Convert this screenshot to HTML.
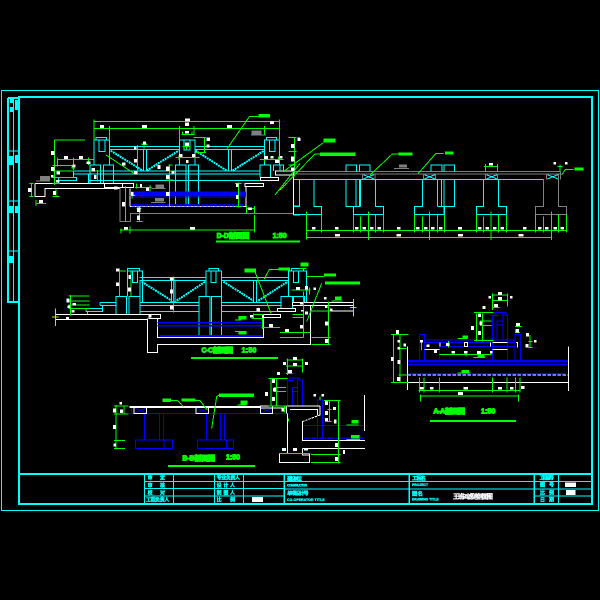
<!DOCTYPE html>
<html><head><meta charset="utf-8"><style>
html,body{margin:0;padding:0;background:#000;width:600px;height:600px;overflow:hidden}
svg{display:block}
path{fill:none;stroke-width:3}
.c path,path.c{stroke:#0ff}.g path,path.g{stroke:#0f0}.w path,path.w{stroke:#fff}
.b path,path.b{stroke:#00f}.y path,path.y{stroke:#808080}
.wr rect{fill:#fff}.gr rect{fill:#0f0}.br{fill:#00f}
.t{font-family:"Liberation Sans","Noto Sans CJK SC",sans-serif;font-weight:bold;fill:#0f0;stroke:#0f0;font-size:21px;stroke-width:3}
.k{font-family:"Liberation Sans","Noto Sans CJK SC",sans-serif;font-weight:bold;fill:#0ff;stroke:#0ff;stroke-width:1;font-size:15px}
</style></head><body>
<svg width="600" height="600" viewBox="0 0 600 600" xmlns="http://www.w3.org/2000/svg" shape-rendering="crispEdges">
<rect width="600" height="600" fill="#000"/>
<!-- frames -->
<rect x="1.5" y="90.5" width="597" height="420" fill="none" stroke="#0ff"/>
<rect x="19" y="97" width="573" height="407" fill="none" stroke="#0ff" stroke-width="2"/>
<path style="stroke-width:2" stroke="#0ff" fill="none" d="M8 98V302H19M8 98H19"/>
<path style="stroke-width:1" stroke="#0ff" fill="none" d="M13.5 98V302M9 151H19M9 201H19M9 251H19"/>
<g fill="#0ff"><rect x="10" y="99" width="3" height="4"/><rect x="15" y="100" width="3" height="10"/><rect x="10" y="107" width="3" height="5"/><rect x="9" y="156" width="4" height="9"/><rect x="15" y="155" width="3" height="8"/><rect x="9" y="206" width="4" height="7"/><rect x="15" y="206" width="3" height="7"/><rect x="9" y="256" width="4" height="7"/></g>

<!-- title block -->
<g transform="translate(130,470) scale(.33333)">
<path class="c" style="stroke-width:6" d="M-333 12H1385"/>
<path class="c" d="M43 35H1385M463 57H1385M43 56H463M43 78H463M838 78H838M1213 35H1385M1213 78H1385M463 35H838"/>
<path class="c" d="M43 12V102M130 12V102M253 12V102M340 12V102M1285 12V102"/>
<path class="c" style="stroke-width:4" d="M463 12V102M838 12V102M1213 12V102"/>
<text class="k" x="53" y="29" textLength="52">审  定</text><text class="k" x="53" y="51" textLength="52">审  核</text>
<text class="k" x="53" y="74" textLength="52">校  对</text><text class="k" x="48" y="95" textLength="70">工程负责人</text>
<text class="k" x="260" y="29" textLength="70">专业负责人</text><text class="k" x="260" y="51" textLength="55">设 计 人</text>
<text class="k" x="260" y="74" textLength="55">制 图 人</text><text class="k" x="260" y="95" textLength="55">比 例</text>
<rect x="366" y="81" width="33" height="15" fill="#fff"/>
<text class="k" x="471" y="31" textLength="45" style="font-size:16px">建设单位</text><text class="k" x="471" y="49" textLength="60" style="font-size:10px">CONSTRUCTOR</text>
<text class="k" x="471" y="75" textLength="65" style="font-size:16px">单项设计号</text><text class="k" x="471" y="93" textLength="113" style="font-size:10px">CO-OPERATOR  TITLE</text>
<text class="k" x="846" y="30" textLength="42" style="font-size:16px">工程名</text><text class="k" x="846" y="48" textLength="48" style="font-size:10px">PROJECT</text>
<text class="k" x="846" y="77" textLength="33" style="font-size:16px">图 名</text><text class="k" x="846" y="92" textLength="80" style="font-size:10px">DRAWING  TITLE</text>
<text x="969" y="86" textLength="120" style="font-family:'Liberation Sans','Noto Sans CJK SC',sans-serif;font-size:19px;font-weight:bold;fill:#fff;stroke:#fff;stroke-width:1">王班2#滤池剖面图</text>
<text class="k" x="1228" y="28" textLength="44">工程编号</text><text class="k" x="1230" y="50" textLength="42">图 号</text>
<text class="k" x="1230" y="74" textLength="42">比 例</text><text class="k" x="1230" y="95" textLength="42">日 期</text>
<g class="wr"><rect x="1305" y="38" width="33" height="13"/><rect x="1308" y="60" width="29" height="15"/></g>
</g>

<!-- D-D -->
<g transform="translate(20,100) scale(.33333)">
<g class="c"><path d="M222 195V120H268V195M228 120V112H260V120M237 120V155H255V120M733 195V120H778V195M739 120V112H770V120M748 120V155H765V120M478 195V120H525V195M492 120V150H510V120M268 140H478M268 149H478M525 140H733M525 149H733M160 213H722M160 222H722M205 241H722M370 149V212M380 149V212M625 149V212M635 149V212M466 320V195H498V320M505 320V195H536V320M210 250V195H242V250M250 250V195H281V250M720 232V195H752V232M760 213V195H791V213M115 250V232H170V242H115M160 232V213M205 222V250"/>
<path style="stroke-width:6" stroke-dasharray="6 2" d="M272 152L368 212M380 212L476 152M527 152L620 212M638 212L732 152"/></g>
<g class="w"><path d="M45 250V290H75V265H300M45 250H253M253 250H340V263H253ZM307 250V263M675 250H730V260H675ZM722 232H776V242H722ZM766 213H820V225H766ZM678 260V320M330 265V320M330 320H678"/></g>
<g class="y"><path d="M300 263V365H332V340H820"/></g>
<path class="c" d="M820 345V237M820 318H840M820 345H840"/>
<rect class="br" x="338" y="274" width="340" height="14"/><path class="b" d="M338 291H678"/><path class="b" style="stroke-width:7" stroke-dasharray="10 3" d="M335 316H670"/>
<g class="g"><path d="M222 65H780M222 85H780M222 58V125M268 78V120M478 78V120M522 78V105M733 78V105M778 58V125M620 148L688 50H750M103 120H195M103 120V255M113 172V200M113 178H220M97 197H160M97 213H160M97 232H160M97 250H120M28 250H40M28 290H40M35 250V290M48 310H78M48 300V318M108 265V290M98 290H118M160 172V210M205 172V195M232 210V245M210 213H245M258 165L345 222M352 135V225M365 133H382M372 125V145M485 103H522M488 95V105M516 95V105M488 140H512M500 130V150M445 195H458M448 195V318M440 213H460M438 240H460M466 173H538M477 165V180M525 165V180M520 113H558M553 113V158M525 158H558M720 178H790M733 170V186M775 170V186M806 113H830M806 155H830M806 195H830M824 113V230M765 285L840 190M316 258V365M328 287H345M336 275V295M350 250V265M345 263H395M390 255V275M358 318V365M350 325H365M350 365H368M655 247V322M645 250H665M645 320H665M678 325H705M680 318V340M703 318V340M330 390H703M703 345V398M303 385V400M330 380V400M300 390H330"/>
<path style="stroke-width:6" d="M588 425H840"/></g>
<g class="gr"><rect x="715" y="42" width="35" height="11"/><rect x="365" y="130" width="16" height="5"/><rect x="155" y="198" width="10" height="8"/></g>
<g class="wr"><rect x="240" y="75" width="12" height="9"/><rect x="366" y="75" width="15" height="9"/><rect x="621" y="75" width="15" height="9"/><rect x="495" y="55" width="15" height="9"/><rect x="495" y="68" width="12" height="10"/><rect x="750" y="63" width="12" height="9"/><rect x="93" y="153" width="10" height="12"/><rect x="93" y="201" width="10" height="12"/><rect x="93" y="225" width="8" height="8"/><rect x="110" y="215" width="10" height="9"/><rect x="132" y="168" width="12" height="9"/><rect x="177" y="168" width="12" height="9"/><rect x="200" y="185" width="12" height="7"/><rect x="158" y="193" width="8" height="8"/><rect x="215" y="204" width="10" height="10"/><rect x="222" y="225" width="8" height="12"/><rect x="108" y="240" width="10" height="8"/><rect x="24" y="264" width="10" height="12"/><rect x="57" y="300" width="12" height="9"/><rect x="99" y="273" width="9" height="12"/><rect x="369" y="124" width="9" height="9"/><rect x="342" y="140" width="8" height="9"/><rect x="342" y="177" width="9" height="10"/><rect x="342" y="213" width="9" height="10"/><rect x="306" y="187" width="10" height="10"/><rect x="413" y="195" width="8" height="12"/><rect x="438" y="200" width="10" height="13"/><rect x="438" y="225" width="10" height="12"/><rect x="455" y="213" width="8" height="8"/><rect x="495" y="93" width="12" height="7"/><rect x="495" y="128" width="12" height="10"/><rect x="477" y="162" width="11" height="9"/><rect x="516" y="162" width="11" height="9"/><rect x="498" y="180" width="8" height="9"/><rect x="560" y="113" width="10" height="10"/><rect x="560" y="133" width="9" height="10"/><rect x="732" y="168" width="12" height="9"/><rect x="765" y="180" width="12" height="9"/><rect x="752" y="168" width="9" height="8"/><rect x="780" y="168" width="8" height="8"/><rect x="813" y="132" width="10" height="12"/><rect x="813" y="170" width="10" height="12"/><rect x="813" y="202" width="9" height="12"/><rect x="833" y="113" width="7" height="9"/><rect x="282" y="260" width="10" height="8"/><rect x="306" y="306" width="9" height="14"/><rect x="333" y="276" width="8" height="12"/><rect x="378" y="263" width="9" height="10"/><rect x="360" y="252" width="6" height="10"/><rect x="438" y="276" width="10" height="12"/><rect x="648" y="250" width="8" height="11"/><rect x="648" y="285" width="8" height="12"/><rect x="684" y="322" width="12" height="8"/><rect x="351" y="323" width="10" height="13"/><rect x="351" y="347" width="9" height="13"/><rect x="312" y="381" width="12" height="8"/><rect x="510" y="381" width="15" height="7"/></g>
<g fill="#808080"><rect x="60" y="228" width="30" height="13"/><rect x="406" y="253" width="26" height="11"/><rect x="405" y="294" width="27" height="11"/><rect x="695" y="92" width="30" height="11"/></g>
<g class="y"><path d="M48 243H90M395 265H437M393 308H437M693 105H738"/></g>
<text class="t" x="590" y="414" textLength="98">D-D剖面图</text><text class="t" x="758" y="414" textLength="42">1:50</text>
</g>

<!-- bridge -->
<g transform="translate(280,130) scale(.33333)">
<g class="y"><path d="M0 125H842M40 132H842M842 125V149M790 149V230H766V254H859V230H835V149M247 132V149M285 132V149M430 132V149M467 132V149M616 132V149M653 132V149M799 132V149M836 132V149M0 250H40"/></g>
<g class="c"><path d="M40 149H790M58 149V230H40M102 149V230H125V254H40M198 149V230H220V254H310V230H286V149M228 149V230M238 149V230M242 149V230M220 230H242M198 125V105H230V125M238 125V105H270V125M427 149V230H403V254H494V230H472M472 149V230M484 149V230M492 149V254M524 149V230H472M453 125V105H486V125M492 125V105H524V125M610 149V230H589V254H680V230H655V149M250 134L282 147M250 147L282 134M433 134L465 147M433 147L465 134M619 134L651 147M619 147L651 134M802 134L834 147M802 147L834 134M0 105H10M0 125V105"/></g>
<path class="w" d="M40 132V254"/>
<g class="g"><path d="M80 244V328M80 301H859M80 322H815M124 254V308M220 254V308M241 260V308M265 244V330M286 254V308M310 254V308M403 254V308M427 260V308M448 244V330M472 254V308M494 254V308M589 254V308M610 260V308M633 244V330M655 254V308M680 254V308M766 254V308M790 260V308M814 244V330M835 254V308M859 254V308M612 109H653M616 102V125M653 102V125M845 135L856 118H880M10 125L130 38M0 180L105 72H120M270 135L337 72H355M415 130L468 70H490M43 22V125M25 65H50M25 105H50M840 103V125M832 110H848"/><path stroke-dasharray="6 4" d="M25 22H50"/></g>
<g class="gr"><rect x="130" y="26" width="37" height="12"/><rect x="120" y="67" width="107" height="11"/><rect x="355" y="67" width="43" height="10"/><rect x="495" y="64" width="26" height="10"/><rect x="883" y="112" width="28" height="10"/></g>
<g class="wr"><rect x="96" y="291" width="11" height="8"/><rect x="165" y="291" width="11" height="8"/><rect x="225" y="291" width="11" height="8"/><rect x="247" y="291" width="11" height="8"/><rect x="270" y="291" width="11" height="8"/><rect x="292" y="291" width="11" height="8"/><rect x="351" y="291" width="11" height="8"/><rect x="408" y="291" width="11" height="8"/><rect x="432" y="291" width="11" height="8"/><rect x="453" y="291" width="11" height="8"/><rect x="477" y="291" width="11" height="8"/><rect x="534" y="291" width="12" height="8"/><rect x="594" y="291" width="11" height="8"/><rect x="616" y="291" width="11" height="8"/><rect x="639" y="291" width="11" height="8"/><rect x="661" y="291" width="11" height="8"/><rect x="729" y="291" width="11" height="8"/><rect x="774" y="291" width="11" height="8"/><rect x="795" y="291" width="11" height="8"/><rect x="820" y="291" width="11" height="8"/><rect x="841" y="291" width="11" height="8"/><rect x="165" y="312" width="15" height="8"/><rect x="350" y="312" width="13" height="8"/><rect x="534" y="312" width="15" height="8"/><rect x="715" y="312" width="15" height="8"/><rect x="627" y="99" width="12" height="8"/><rect x="820" y="96" width="8" height="8"/><rect x="855" y="96" width="8" height="8"/><rect x="53" y="24" width="9" height="9"/><rect x="33" y="42" width="10" height="12"/><rect x="33" y="82" width="10" height="12"/><rect x="33" y="112" width="10" height="10"/></g>
<rect x="357" y="104" width="24" height="8" fill="#808080"/><path class="y" d="M342 115H387"/>
</g>

<!-- C-C -->
<g transform="translate(40,255) scale(.33333)">
<g class="c"><path d="M262 125V48H308V125M262 48V40H298V48M277 48V82H293V48M228 178V125H260V178M267 178V125H300V178M298 68H498M298 77H498M498 125V48H544V125M507 48V40H536V48M513 48V82H528V48M477 245V125H510V245M515 245V125H545V245M544 68H745M544 77H745M745 125V48H800V142M754 48V40H790V48M760 48V82H776V48M723 160V125H757V160M760 142V125H793V142M180 142H228M180 152H228M180 142V152M545 142H723M300 142H477M300 152H477M545 152H723M300 170H477M545 170H712M138 170V160H188V170H138M188 152V160M143 170V178M395 77V142M405 77V142M640 77V142M650 77V142M300 77V142M308 77V142"/>
<path style="stroke-width:6" stroke-dasharray="6 2" d="M305 80L395 137M410 137L496 80M550 80L640 137M655 137L743 80"/></g>
<g class="w"><path d="M47 178H362V191H327V178M47 178V193H322M322 191V293H353V268H812V165M353 191V247H671V178M668 178H722V188H668ZM712 160H767V170H712ZM757 142H940M757 152H940M757 142V152M812 152V170M812 168H940"/></g>
<g class="b"><path style="stroke-width:5" d="M353 203H668M353 212H668"/><path style="stroke-width:6" d="M358 243H668"/></g>
<g class="g"><path d="M92 120V182M85 123H148M85 138H148M85 150H148M85 160H148M238 40V125M273 48V125M232 48H258M400 65V172M388 72H405M390 140H410M865 140V268M815 248H872M815 268H872M815 168H872M790 110V248M720 232H812M720 247H790M755 105H812M808 98V118M668 190V222M665 218H720M640 175V190M635 190H670M640 178H670M757 178H790M757 187H790M798 65H852M800 200L845 85M673 72L688 43H715M693 175L645 50M778 40H800M585 195H605M585 230H605M875 138H908"/><path style="stroke-width:6" d="M453 309H714"/></g>
<path style="stroke:#b0f000" d="M46 160V213M36 186H56M940 132V185M930 158H950"/>
<g class="gr"><rect x="852" y="55" width="36" height="10"/><rect x="855" y="79" width="105" height="10"/><rect x="715" y="37" width="35" height="10"/><rect x="613" y="40" width="35" height="13"/><rect x="595" y="183" width="25" height="10"/><rect x="595" y="228" width="25" height="10"/><rect x="885" y="125" width="20" height="10"/><rect x="782" y="22" width="24" height="12"/></g>
<g class="wr"><rect x="228" y="40" width="9" height="9"/><rect x="265" y="60" width="8" height="12"/><rect x="228" y="82" width="9" height="11"/><rect x="264" y="97" width="9" height="12"/><rect x="390" y="67" width="10" height="10"/><rect x="390" y="103" width="9" height="12"/><rect x="390" y="152" width="10" height="12"/><rect x="80" y="130" width="9" height="12"/><rect x="82" y="152" width="8" height="7"/><rect x="95" y="165" width="9" height="7"/><rect x="98" y="144" width="10" height="8"/><rect x="327" y="180" width="8" height="8"/><rect x="78" y="186" width="9" height="6"/><rect x="650" y="159" width="10" height="10"/><rect x="630" y="180" width="9" height="8"/><rect x="687" y="207" width="12" height="10"/><rect x="735" y="222" width="12" height="9"/><rect x="780" y="210" width="9" height="11"/><rect x="768" y="96" width="12" height="9"/><rect x="795" y="93" width="9" height="10"/><rect x="820" y="97" width="8" height="8"/><rect x="852" y="126" width="8" height="8"/><rect x="855" y="200" width="10" height="12"/><rect x="855" y="252" width="10" height="12"/><rect x="870" y="160" width="7" height="8"/><rect x="855" y="150" width="8" height="9"/><rect x="795" y="170" width="9" height="9"/><rect x="780" y="142" width="9" height="7"/><rect x="783" y="165" width="7" height="5"/></g>
<text class="t" x="484" y="293" textLength="95">C-C剖面图</text><text class="t" x="605" y="293" textLength="44">1:50</text>
</g>

<!-- A-A -->
<g transform="translate(380,285) scale(.33333)">
<g class="b"><path style="stroke-width:8" d="M83 229H565"/><path d="M83 238H565"/><path style="stroke-width:4" d="M83 266H555"/><path d="M118 228V148H134V228M134 165H405M134 172H405M178 172V228M180 184H405M338 228V92H356M382 228V90H364M345 92V82H378V90M351 165V108H369M369 165V92M351 120H369M405 228V148H422V228"/></g>
<g class="w"><path d="M83 185V315M565 185V318M83 292H565M134 193H178M338 172H382M338 193H382M253 172H263V185H253ZM180 172V184M332 172V184M408 172H413V188"/><path stroke-dasharray="10 5" d="M83 270H565"/></g>
<g class="g"><path d="M40 148V293M33 148H85M33 293H85M60 148V293M55 270H85M60 190H80M125 172V195M118 278V322M132 278V322M178 278V322M337 278V322M381 278V322M406 278V322M420 278V322M115 316H420M122 333H415M122 328V350M415 328V350M338 25V75M382 25V65M338 30H382M338 47H382M338 68H358M290 85V170M282 82H340M307 85V170M300 108H335M300 121H335M282 167H340M178 208H335M258 198V215M450 150V188M445 170H458M445 188H458M232 161H262M280 218H315M232 264H272M205 168V188M405 125H425M405 143H420"/><path style="stroke-width:6" d="M150 408H408"/></g>
<g class="gr"><rect x="248" y="151" width="16" height="9"/><rect x="292" y="209" width="22" height="8"/><rect x="245" y="255" width="22" height="9"/></g>
<g class="wr"><rect x="48" y="135" width="9" height="12"/><rect x="33" y="216" width="8" height="12"/><rect x="52" y="165" width="8" height="8"/><rect x="52" y="186" width="8" height="8"/><rect x="52" y="225" width="9" height="12"/><rect x="51" y="276" width="10" height="12"/><rect x="70" y="175" width="8" height="9"/><rect x="120" y="165" width="9" height="7"/><rect x="140" y="178" width="8" height="8"/><rect x="162" y="195" width="9" height="9"/><rect x="198" y="174" width="10" height="9"/><rect x="215" y="198" width="10" height="8"/><rect x="252" y="198" width="10" height="8"/><rect x="291" y="198" width="12" height="9"/><rect x="330" y="198" width="8" height="8"/><rect x="273" y="123" width="9" height="12"/><rect x="294" y="138" width="9" height="12"/><rect x="294" y="85" width="9" height="11"/><rect x="298" y="110" width="8" height="10"/><rect x="308" y="63" width="9" height="9"/><rect x="325" y="33" width="8" height="8"/><rect x="390" y="33" width="8" height="8"/><rect x="354" y="21" width="12" height="9"/><rect x="354" y="36" width="12" height="10"/><rect x="342" y="57" width="12" height="9"/><rect x="408" y="114" width="12" height="9"/><rect x="407" y="132" width="10" height="10"/><rect x="438" y="144" width="9" height="11"/><rect x="437" y="177" width="9" height="11"/><rect x="462" y="165" width="8" height="8"/><rect x="120" y="306" width="10" height="8"/><rect x="150" y="306" width="11" height="8"/><rect x="250" y="306" width="14" height="8"/><rect x="354" y="306" width="12" height="8"/><rect x="390" y="306" width="11" height="8"/><rect x="423" y="303" width="11" height="9"/><rect x="234" y="321" width="15" height="9"/></g>
<text class="t" x="160" y="385" textLength="95">A-A剖面图</text><text class="t" x="303" y="385" textLength="43">1:50</text>
</g>

<!-- B-B -->
<g transform="translate(100,350) scale(.33333)">
<g class="b"><path d="M88 190H565M133 190V270M178 190V270M190 190V270M106 270H218V296H106ZM192 270V296M319 190V270M361 190V270M374 190V270M292 270H401V296H292ZM379 270V296M607 226H790M652 265V150H667V265M562 168V92H580M608 168V90H590M568 92V84H598V90M577 168V112H593M593 168V90M577 124H593M105 175L137 188M105 188L137 175M291 175L323 188M291 188L323 175M485 175L515 188M485 188L515 175M95 172V190"/><path style="stroke-width:5" stroke-dasharray="6 2" d="M610 265H790"/></g>
<g class="w"><path style="stroke-width:5" d="M88 171H480"/><path d="M480 168H660M480 174H560M102 170V190H140V170M288 170V190H326V170M482 170V190H518V170M562 190V310M538 310H628V338H538ZM570 178H652V197M660 168V197M607 215V272H795M607 295H795M607 295V315H628M793 135V243M560 170V190"/><path stroke-dasharray="7 3" d="M607 215L660 195"/></g>
<g class="g"><path d="M513 85V168M530 85V168M505 85H562M522 112H558M522 124H558M505 168H562M562 25V75M607 25V68M560 30H607M558 48H607M558 70H577M48 165V298M42 168H85M42 192H85M42 272H75M42 295H75M72 168V192M715 150V340M672 152H722M688 150V215M682 215H695M682 178H695M633 313H722M633 337H722M537 310H630M250 170L233 152H187M322 180L300 152H245M335 235L350 140L357 135M412 165H440M553 170V188M565 205V215M660 140V150M740 225H775M740 268H780"/></g>
<g class="gr"><rect x="187" y="145" width="26" height="11"/><rect x="245" y="145" width="42" height="10"/><rect x="357" y="130" width="105" height="11"/><rect x="422" y="152" width="20" height="11"/><rect x="755" y="210" width="20" height="10"/><rect x="753" y="255" width="25" height="11"/></g>
<g class="wr"><rect x="58" y="156" width="8" height="8"/><rect x="39" y="175" width="9" height="12"/><rect x="60" y="178" width="9" height="11"/><rect x="39" y="225" width="9" height="12"/><rect x="40" y="280" width="8" height="10"/><rect x="544" y="175" width="8" height="9"/><rect x="495" y="126" width="9" height="12"/><rect x="516" y="87" width="9" height="12"/><rect x="519" y="114" width="9" height="10"/><rect x="516" y="141" width="9" height="12"/><rect x="531" y="66" width="9" height="9"/><rect x="549" y="36" width="9" height="9"/><rect x="615" y="36" width="9" height="9"/><rect x="579" y="21" width="12" height="9"/><rect x="579" y="39" width="12" height="9"/><rect x="564" y="60" width="12" height="9"/><rect x="640" y="132" width="8" height="8"/><rect x="664" y="132" width="8" height="8"/><rect x="675" y="153" width="9" height="12"/><rect x="699" y="171" width="9" height="9"/><rect x="675" y="183" width="9" height="12"/><rect x="675" y="204" width="9" height="10"/><rect x="702" y="208" width="7" height="12"/><rect x="546" y="294" width="12" height="9"/><rect x="579" y="294" width="12" height="9"/><rect x="612" y="294" width="12" height="8"/><rect x="705" y="279" width="9" height="12"/><rect x="729" y="300" width="6" height="12"/><rect x="705" y="321" width="9" height="12"/></g>
<text class="t" x="247" y="332" textLength="98">B-B剖面图</text><text class="t" x="378" y="328" textLength="42">1:50</text>
<path class="g" style="stroke-width:6" d="M204 348H465"/>
</g>
</svg>
</body></html>
